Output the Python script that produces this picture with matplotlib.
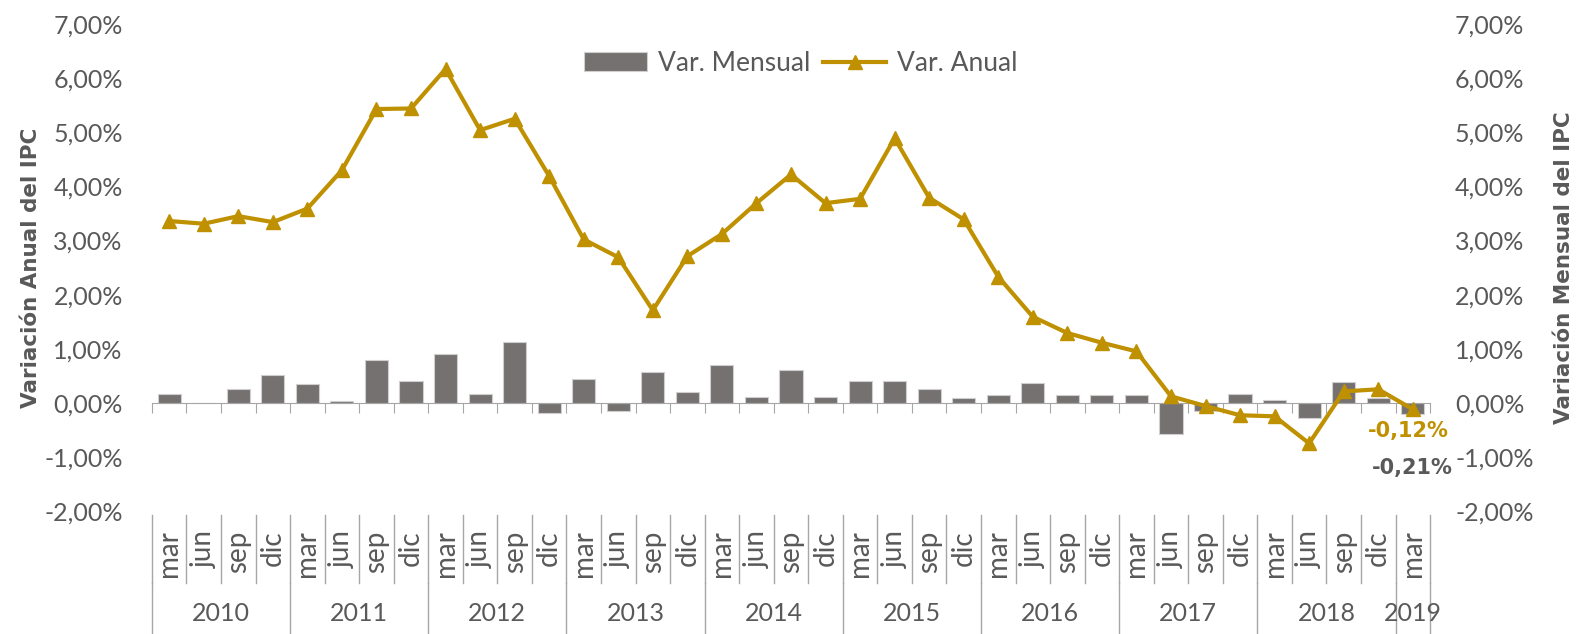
import matplotlib
matplotlib.use("Agg")
import matplotlib.pyplot as plt
from matplotlib.ticker import FuncFormatter, FixedLocator

# quarterly IPC data, mar 2010 - mar 2019
months = ["mar", "jun", "sep", "dic"] * 9 + ["mar"]
years = ["2010", "2011", "2012", "2013", "2014", "2015", "2016", "2017", "2018", "2019"]
year_sizes = [4, 4, 4, 4, 4, 4, 4, 4, 4, 1]

var_mensual = [0.16, 0.00, 0.25, 0.51, 0.34, 0.04, 0.79, 0.40, 0.90, 0.17, 1.13, -0.18,
               0.44, -0.15, 0.57, 0.20, 0.70, 0.10, 0.61, 0.11, 0.41, 0.41, 0.26, 0.09,
               0.14, 0.36, 0.15, 0.15, 0.14, -0.58, -0.15, 0.17, 0.06, -0.28, 0.39, 0.09,
               -0.21]
var_anual = [3.36, 3.31, 3.45, 3.34, 3.59, 4.30, 5.43, 5.44, 6.17, 5.04, 5.25, 4.19,
             3.02, 2.69, 1.71, 2.71, 3.12, 3.69, 4.22, 3.69, 3.77, 4.89, 3.79, 3.39,
             2.33, 1.59, 1.29, 1.11, 0.95, 0.12, -0.06, -0.23, -0.25, -0.75, 0.21, 0.25,
             -0.12]
y_ticks = [-2, -1, 0, 1, 2, 3, 4, 5, 6, 7]

GOLD = "#BF9000"
BAR = "#757171"
TXT = "#595959"
SEP = "#A6A6A6"
BOLD_FONT = ["DejaVu Sans"]

plt.rcParams["font.family"] = ["Lato", "DejaVu Sans"]

fig = plt.figure(figsize=(15.76, 6.34), dpi=100)
ax = fig.add_axes([0.0964, 0.194, 0.811, 0.768])
ax2 = ax.twinx()

x = list(range(len(months)))
ax.bar(x, var_mensual, width=0.67, color=BAR, edgecolor="#D0CECE", linewidth=0.8,
       label="Var. Mensual", zorder=2)
ax2.plot(x, var_anual, color=GOLD, lw=3, marker="^", markersize=10,
         label="Var. Anual", zorder=3)

pct = FuncFormatter(lambda v, _: f"{v:.2f}%".replace(".", ","))
for a in (ax, ax2):
    a.set_ylim(-2, 7)
    a.set_xlim(-0.5, len(months) - 0.5)
    a.yaxis.set_major_locator(FixedLocator(y_ticks))
    a.yaxis.set_major_formatter(pct)
    for s in a.spines.values():
        s.set_visible(False)
    a.tick_params(axis="y", length=0, labelsize=18, colors=TXT)
ax.tick_params(axis="y", pad=21)
ax2.tick_params(axis="y", pad=18)

# x axis line at zero with boundary ticks
ax.spines["bottom"].set_visible(True)
ax.spines["bottom"].set_position(("data", 0))
ax.spines["bottom"].set_color(SEP)
ax.set_xticks([i - 0.5 for i in range(len(months) + 1)])
ax.set_xticklabels([])
ax.tick_params(axis="x", length=7, color=SEP, direction="out")
ax2.tick_params(axis="x", length=0)

ax.set_ylabel("Variación Anual del IPC", fontsize=15.5, fontweight="bold", color=TXT,
              family=BOLD_FONT)
ax2.set_ylabel("Variación Mensual del IPC", fontsize=15.5, fontweight="bold", color=TXT,
               family=BOLD_FONT, rotation=90)
ax.yaxis.set_label_coords(-0.087, 0.5)
ax2.yaxis.set_label_coords(1.097, 0.5)

# category labels (month / year) below the plot
tr = ax.get_xaxis_transform()
for i, m in enumerate(months):
    ax.text(i, -0.04, m, rotation=90, ha="center", va="top", fontsize=20, color=TXT,
            transform=tr, clip_on=False)
for i in range(len(months) + 1):
    ax.plot([i - 0.5, i - 0.5], [-0.008, -0.148], color=SEP, lw=1, transform=tr, clip_on=False)
start = 0
for yr, n in zip(years, year_sizes):
    ax.plot([start - 0.5, start - 0.5], [-0.148, -0.26], color=SEP, lw=1, transform=tr, clip_on=False)
    ax.text(start + (n - 1) / 2, -0.21, yr, ha="center", va="center", fontsize=18, color=TXT,
            transform=tr, clip_on=False)
    start += n
ax.plot([start - 0.5, start - 0.5], [-0.148, -0.26], color=SEP, lw=1, transform=tr, clip_on=False)

# data labels for the last point
last = len(months) - 1
ax2.annotate(f"{var_anual[-1]:.2f}%".replace(".", ","), xy=(last, var_anual[-1]),
             xytext=(-4, -22), textcoords="offset pixels", ha="center", va="center",
             fontsize=15, fontweight="bold", color=GOLD, family=BOLD_FONT)
ax2.annotate(f"{var_mensual[-1]:.2f}%".replace(".", ","), xy=(last, var_mensual[-1]),
             xytext=(0, -54), textcoords="offset pixels", ha="center", va="center",
             fontsize=15, fontweight="bold", color=TXT, family=BOLD_FONT)

h1, l1 = ax.get_legend_handles_labels()
h2, l2 = ax2.get_legend_handles_labels()
fig.legend(h1 + h2, l1 + l2, loc="center", bbox_to_anchor=(0.508, 0.9), ncol=2, frameon=False,
           fontsize=19, labelcolor=TXT, handlelength=2.4, columnspacing=0.5, handletextpad=0.4)

fig.savefig("out.png", dpi=100)
